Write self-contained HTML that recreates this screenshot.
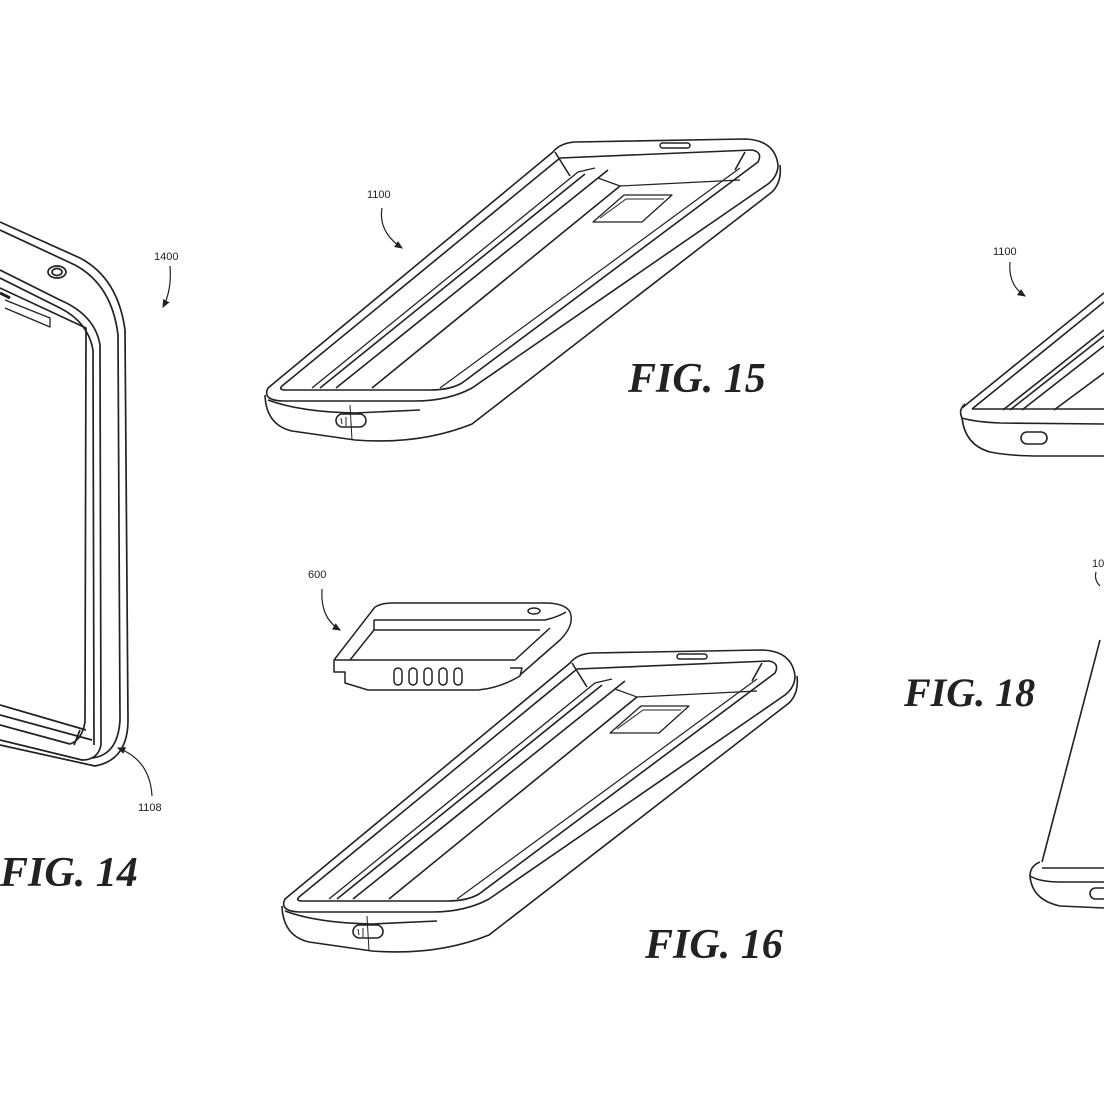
<!DOCTYPE html>
<html><head><meta charset="utf-8"><style>
html,body{margin:0;padding:0;background:#fff;}
svg{display:block}
.f{font-family:"Liberation Serif",serif;font-style:italic;font-weight:bold;fill:#222;}
.n{font-family:"Liberation Sans",sans-serif;font-size:11px;fill:#222;}
</style></head><body>
<svg width="1104" height="1104" viewBox="0 0 1104 1104" xmlns="http://www.w3.org/2000/svg">
<defs>
<marker id="ah" markerWidth="8" markerHeight="8" refX="6" refY="4" orient="auto"><path d="M0,1 L7,4 L0,7 Z" fill="#222"/></marker>
<g id="case" fill="none" stroke="#222" stroke-width="1.6" stroke-linejoin="round">
  <!-- top face outer -->
  <path d="M268,388 L553,152 Q560,143 575,142 L745,139 Q775,140 778,165 Q778,176 768,184 L472,388 Q448,401 415,401 L282,401 Q262,400 268,388 Z"/>
  <!-- inner opening -->
  <path d="M282,386 L560,158 L752,150 Q763,152 758,162 L462,383 Q450,390 430,390 L286,390 Q278,390 282,386 Z"/>
  <!-- body side -->
  <path d="M265,395 Q266,425 292,431 L355,440 Q420,445 472,424 L772,192 Q782,182 780,165"/>
  <path d="M268,400 Q300,412 355,413 L420,410"/>
  <path d="M350,405 L352,440" stroke-width="1"/>
  <!-- rails -->
  <path d="M312,388 L578,172 L595,168" stroke-width="1.3"/>
  <path d="M320,388 L585,174"/>
  <path d="M336,388 L598,178 L608,170"/>
  <path d="M372,388 L620,186"/>
  <path d="M598,178 L620,186 L740,180" stroke-width="1.2"/>
  <path d="M555,152 L570,176"/>
  <path d="M745,152 L735,170"/>
  <path d="M440,388 L740,168" stroke-width="1.2"/>
  <!-- window -->
  <path d="M593,222 L624,195 L672,195 L642,222 Z" stroke-width="1.3"/>
  <path d="M600,218 L626,199 L664,199" stroke-width="1"/>
  <!-- slot -->
  <rect x="660" y="143" width="30" height="5" rx="2.5" stroke-width="1.5"/>
  <!-- port -->
  <rect x="336" y="414" width="30" height="13" rx="6.5" stroke-width="1.6"/>
  <path d="M341,418 L342,424 M346,417 L346,426" stroke-width="1"/>
</g>
</defs>

<!-- FIG 15 -->
<use href="#case"/>
<text class="n" x="367" y="198">1100</text>
<path d="M382,208 Q378,232 402,248" fill="none" stroke="#222" stroke-width="1.2" marker-end="url(#ah)"/>
<text class="f" x="628" y="392" font-size="42">FIG. 15</text>

<!-- FIG 16 -->
<use href="#case" transform="translate(17,511)"/>
<text class="n" x="308" y="578">600</text>
<path d="M322,589 Q320,618 340,630" fill="none" stroke="#222" stroke-width="1.2" marker-end="url(#ah)"/>
<g fill="none" stroke="#222" stroke-width="1.5" stroke-linejoin="round">
  <path d="M334,660 L375,607 Q382,603 392,603 L545,603 Q565,603 570,612 Q575,625 560,640 L520,675"/>
  <path d="M374,620 L545,620 Q558,617 566,612"/>
  <path d="M374,620 L374,630"/>
  <path d="M334,660 L334,672 L345,672 L345,683 L368,690 L478,690 Q500,688 520,676 L522,668 L510,668"/>
  <path d="M334,660 L515,660 L550,628"/>
  <path d="M350,660 L374,630 L540,630"/>
  <ellipse cx="534" cy="611" rx="6" ry="3"/>
  <rect x="394" y="668" width="8" height="17" rx="4"/>
  <rect x="409" y="668" width="8" height="17" rx="4"/>
  <rect x="424" y="668" width="8" height="17" rx="4"/>
  <rect x="439" y="668" width="8" height="17" rx="4"/>
  <rect x="454" y="668" width="8" height="17" rx="4"/>
</g>
<text class="f" x="645" y="958" font-size="42">FIG. 16</text>

<!-- FIG 14 -->
<g fill="none" stroke="#222" stroke-width="1.7" stroke-linejoin="round">
  <path d="M0,222 L80,258 Q118,278 125,330 L128,720 Q128,760 95,766 L0,745"/>
  <path d="M0,230 L75,265 Q112,285 118,335 L120,720 Q118,755 92,758"/>
  <path d="M0,270 L60,300 Q95,315 100,345 L101,745 Q98,760 82,760 L0,740"/>
  <path d="M0,278 L60,308 Q88,322 93,350 L94,745"/>
  <path d="M0,288 L86,328 L85,722 Q82,740 70,744 L0,725"/>
  <path d="M0,705 L86,730 M0,715 L92,740"/>
  <path d="M80,730 L74,745"/>
  <path d="M5,300 L50,318 L50,327 L5,308" stroke-width="1.3"/>
  <path d="M0,293 L10,298" stroke-width="3"/>
  <ellipse cx="57" cy="272" rx="9" ry="6"/>
  <ellipse cx="57" cy="272" rx="5" ry="3.5"/>
</g>
<text class="n" x="154" y="260">1400</text>
<path d="M170,266 Q172,290 163,307" fill="none" stroke="#222" stroke-width="1.2" marker-end="url(#ah)"/>
<text class="n" x="138" y="811">1108</text>
<path d="M152,796 Q150,760 118,748" fill="none" stroke="#222" stroke-width="1.2" marker-end="url(#ah)"/>
<text class="f" x="0" y="886" font-size="42">FIG. 14</text>

<!-- FIG 17 (partial) -->
<g fill="none" stroke="#222" stroke-width="1.6" stroke-linejoin="round">
  <path d="M962,408 L1104,293"/>
  <path d="M972,409 L1104,302"/>
  <path d="M1003,410 L1104,330 M1010,410 L1104,336"/>
  <path d="M1022,410 L1104,346"/>
  <path d="M1054,410 L1104,373"/>
  <path d="M965,404 Q958,410 962,418 Q975,422 1000,423 L1104,424"/>
  <path d="M962,418 Q965,445 990,452 Q1010,456 1040,456 L1104,456"/>
  <path d="M972,409 L1104,409"/>
  <rect x="1021" y="432" width="26" height="12" rx="6"/>
</g>
<text class="n" x="993" y="255">1100</text>
<path d="M1010,262 Q1008,285 1025,296" fill="none" stroke="#222" stroke-width="1.2" marker-end="url(#ah)"/>

<!-- FIG 18 (partial) -->
<text class="n" x="1092" y="567">10</text>
<path d="M1096,572 Q1094,580 1100,586" fill="none" stroke="#222" stroke-width="1.2"/>
<g fill="none" stroke="#222" stroke-width="1.6" stroke-linejoin="round">
  <path d="M1100,640 L1042,862"/>
  <path d="M1040,862 Q1030,866 1030,876 Q1040,882 1060,882 L1104,882"/>
  <path d="M1030,876 Q1032,900 1060,906 L1104,908"/>
  <path d="M1042,868 L1104,868"/>
  <rect x="1090" y="888" width="20" height="11" rx="5.5"/>
</g>
<text class="f" x="904" y="706" font-size="40">FIG. 18</text>
</svg>
</body></html>
